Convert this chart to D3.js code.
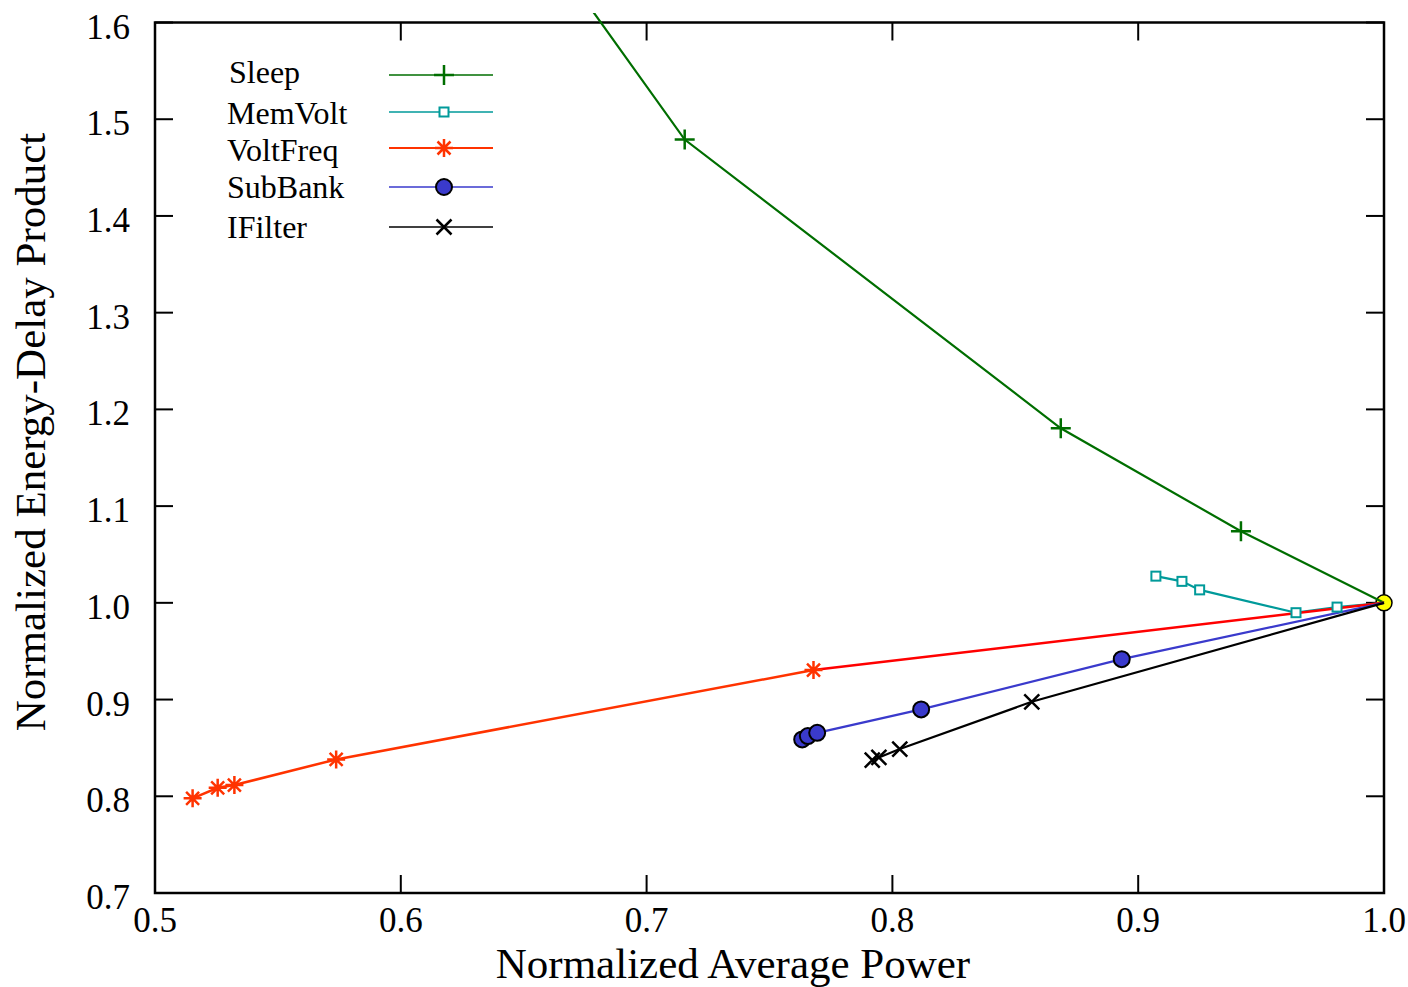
<!DOCTYPE html>
<html lang="en">
<head>
<meta charset="UTF-8">
<title>Normalized Energy-Delay Product vs Average Power</title>
<script src="https://d3js.org/d3.v7.min.js"></script>
<style>
  body { margin: 0; background: #ffffff; }
  text { font-family: "Liberation Serif", "Times New Roman", serif; fill: #000; }
</style>
</head>
<body>
<div id="chart"></div>
<script>
// data
var seriesNames = ["Sleep", "MemVolt", "VoltFreq", "SubBank", "IFilter"];

var sleepX = [0.625, 0.7155, 0.8685, 0.9418, 1.0];
var sleepY = [1.80, 1.479, 1.1805, 1.074, 1.0];

var memVoltX = [0.9072, 0.9178, 0.925, 0.9642, 0.9809, 1.0];
var memVoltY = [1.0276, 1.0222, 1.0134, 0.9898, 0.9956, 1.0];

var voltFreqX = [0.5153, 0.5255, 0.5323, 0.5737, 0.7679, 1.0];
var voltFreqY = [0.7979, 0.8088, 0.8116, 0.8381, 0.9305, 1.0];

var subBankX = [0.7633, 0.7656, 0.7694, 0.8117, 0.8933, 1.0];
var subBankY = [0.8588, 0.8622, 0.8656, 0.8898, 0.9418, 1.0];

var iFilterX = [0.7918, 0.7945, 0.803, 0.8567, 1.0];
var iFilterY = [0.8374, 0.8402, 0.8488, 0.8977, 1.0];

var baseX = [1.0];
var baseY = [1.0];

var xTicks = [0.5, 0.6, 0.7, 0.8, 0.9, 1.0];
var yTicks = [0.7, 0.8, 0.9, 1.0, 1.1, 1.2, 1.3, 1.4, 1.5, 1.6];

// layout
var W = 1408, H = 987;
var L = 155, R = 1384, T = 22.5, B = 893;

var svg = d3.select("#chart").append("svg")
    .attr("width", W).attr("height", H);

var x = d3.scaleLinear().domain([0.5, 1.0]).range([L, R]);
var y = d3.scaleLinear().domain([0.7, 1.6]).range([B, T]);

function pts(xs, ys) { return xs.map(function(v, i) { return [v, ys[i]]; }); }

var styles = {
  Sleep:    { color: "#006e00", marker: "plus",   data: pts(sleepX, sleepY) },
  MemVolt:  { color: "#009a9a", marker: "square", data: pts(memVoltX, memVoltY) },
  VoltFreq: { color: "#ff3300", marker: "star",   data: pts(voltFreqX, voltFreqY) },
  SubBank:  { color: "#3a3acc", marker: "circle", data: pts(subBankX, subBankY) },
  IFilter:  { color: "#000000", marker: "cross",  data: pts(iFilterX, iFilterY) }
};

// clip (the Sleep curve runs a bit above the frame)
svg.append("clipPath").attr("id", "clip")
  .append("rect").attr("x", L).attr("y", 13).attr("width", R - L + 20).attr("height", B - 13);

// ticks, all four sides, pointing inward
var tickLen = 18;
var axes = svg.append("g").attr("stroke", "#000").attr("stroke-width", 2);
xTicks.forEach(function(t) {
  axes.append("line").attr("x1", x(t)).attr("x2", x(t)).attr("y1", B).attr("y2", B - tickLen);
  axes.append("line").attr("x1", x(t)).attr("x2", x(t)).attr("y1", T).attr("y2", T + tickLen);
});
yTicks.forEach(function(t) {
  axes.append("line").attr("x1", L).attr("x2", L + tickLen).attr("y1", y(t)).attr("y2", y(t));
  axes.append("line").attr("x1", R).attr("x2", R - tickLen).attr("y1", y(t)).attr("y2", y(t));
});
svg.append("rect").attr("x", L).attr("y", T).attr("width", R - L).attr("height", B - T)
  .attr("fill", "none").attr("stroke", "#000").attr("stroke-width", 2.5);

// tick labels
svg.append("g").selectAll("text").data(xTicks).enter().append("text")
  .attr("x", function(d) { return x(d); }).attr("y", 932)
  .attr("text-anchor", "middle").style("font-size", "35px")
  .text(function(d) { return d.toFixed(1); });
svg.append("g").selectAll("text").data(yTicks).enter().append("text")
  .attr("x", 130).attr("y", function(d) { return y(d) + 16; })
  .attr("text-anchor", "end").style("font-size", "35px")
  .text(function(d) { return d.toFixed(1); });

// axis titles
svg.append("text").attr("x", 733).attr("y", 978).attr("text-anchor", "middle")
  .style("font-size", "43px").text("Normalized Average Power");
svg.append("text").attr("transform", "translate(45,432) rotate(-90)")
  .attr("text-anchor", "middle").style("font-size", "43px")
  .text("Normalized Energy-Delay Product");

// markers
function drawMarker(g, kind, cx, cy, color) {
  if (kind === "plus") {
    g.append("path").attr("d", "M" + (cx - 10) + "," + cy + "H" + (cx + 10) + "M" + cx + "," + (cy - 10) + "V" + (cy + 10))
      .attr("stroke", color).attr("stroke-width", 2.5).attr("fill", "none");
  } else if (kind === "square") {
    g.append("rect").attr("x", cx - 4.5).attr("y", cy - 4.5).attr("width", 9).attr("height", 9)
      .attr("stroke", color).attr("stroke-width", 2).attr("fill", "#fff");
  } else if (kind === "star") {
    var a = 9, d = 6.5;
    g.append("path").attr("d",
        "M" + (cx - a) + "," + cy + "H" + (cx + a) +
        "M" + cx + "," + (cy - a) + "V" + (cy + a) +
        "M" + (cx - d) + "," + (cy - d) + "L" + (cx + d) + "," + (cy + d) +
        "M" + (cx - d) + "," + (cy + d) + "L" + (cx + d) + "," + (cy - d))
      .attr("stroke", color).attr("stroke-width", 2.5).attr("fill", "none");
  } else if (kind === "circle") {
    g.append("circle").attr("cx", cx).attr("cy", cy).attr("r", 8)
      .attr("fill", color).attr("stroke", "#000").attr("stroke-width", 2);
  } else if (kind === "cross") {
    var c = 7.5;
    g.append("path").attr("d",
        "M" + (cx - c) + "," + (cy - c) + "L" + (cx + c) + "," + (cy + c) +
        "M" + (cx - c) + "," + (cy + c) + "L" + (cx + c) + "," + (cy - c))
      .attr("stroke", color).attr("stroke-width", 2.5).attr("fill", "none");
  }
}

var plot = svg.append("g").attr("clip-path", "url(#clip)");

// common end point
plot.selectAll("circle.base").data(pts(baseX, baseY)).enter().append("circle")
  .attr("class", "base")
  .attr("cx", function(d) { return x(d[0]); }).attr("cy", function(d) { return y(d[1]); })
  .attr("r", 8).attr("fill", "#ffff00").attr("stroke", "#000").attr("stroke-width", 1.5);

var line = d3.line().x(function(d) { return x(d[0]); }).y(function(d) { return y(d[1]); });

seriesNames.forEach(function(name) {
  var s = styles[name];
  if (name === "VoltFreq") {
    var n = s.data.length;
    plot.append("path").datum(s.data.slice(0, n - 1)).attr("d", line)
      .attr("fill", "none").attr("stroke", s.color).attr("stroke-width", 2.5);
    plot.append("path").datum(s.data.slice(n - 2)).attr("d", line)
      .attr("fill", "none").attr("stroke", "#ff0000").attr("stroke-width", 2.5);
  } else {
    plot.append("path").datum(s.data).attr("d", line)
      .attr("fill", "none").attr("stroke", s.color).attr("stroke-width", 2.2);
  }
});

seriesNames.forEach(function(name) {
  var s = styles[name];
  var g = plot.append("g");
  s.data.forEach(function(d) {
    if (d[0] === 1.0 && d[1] === 1.0) return;
    drawMarker(g, s.marker, x(d[0]), y(d[1]), s.color);
  });
});

// legend
var legendLineY = [75, 112, 148, 187, 227];
var legendTextY = [83, 124, 161, 198, 238];
var legendTextX = [229, 227, 227, 227, 227];
var leg = svg.append("g");
seriesNames.forEach(function(name, i) {
  var s = styles[name];
  leg.append("text").attr("x", legendTextX[i]).attr("y", legendTextY[i])
    .style("font-size", "32px").text(name);
  leg.append("line").attr("x1", 389).attr("x2", 493)
    .attr("y1", legendLineY[i]).attr("y2", legendLineY[i])
    .attr("stroke", s.color).attr("stroke-width", name === "VoltFreq" ? 2 : 1.6);
  drawMarker(leg, s.marker, 444, legendLineY[i], s.color);
});
</script>
</body>
</html>
